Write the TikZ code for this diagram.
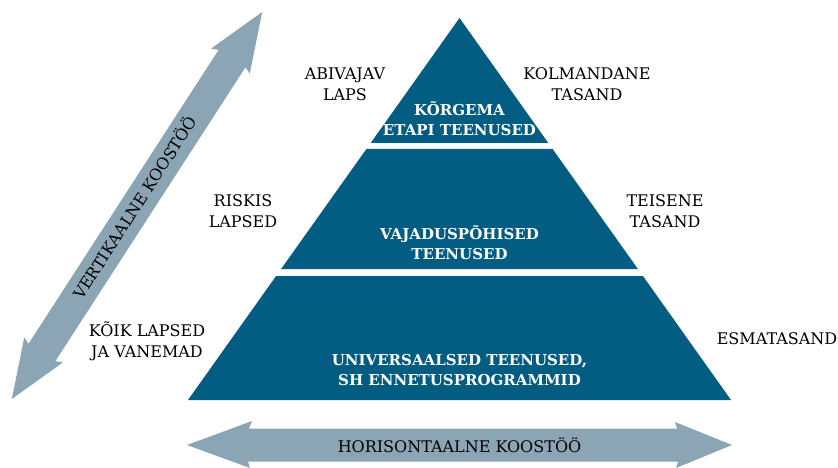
\documentclass[tikz,border=0pt]{standalone}
\usepackage{fontspec}
\setmainfont{DejaVu Serif}
\definecolor{pyr}{HTML}{035C82}
\definecolor{arr}{HTML}{8CA5B4}
\tikzset{
  lbl/.style={align=center, text=black, font=\fontsize{16}{21}\selectfont, inner sep=0pt},
  wlbl/.style={align=center, text=white, font=\fontsize{15}{20}\selectfont\bfseries, inner sep=0pt},
  alb/.style={text=black, font=\fontsize{16}{18}\selectfont, inner sep=0pt},
  band/.style={fill=pyr, draw=none},
  bigarrow/.style={fill=arr, draw=none}
}
\begin{document}
\begin{tikzpicture}[x=1pt,y=-1pt]
\useasboundingbox (0,0) rectangle (838,468);
% pyramid
\fill[band] (459.5,18) -- (548.3,143) -- (370.7,143) -- cycle;
\fill[band] (366.4,149) -- (552.6,149) -- (637.9,269) -- (281.1,269) -- cycle;
\fill[band] (276.1,276) -- (642.9,276) -- (731,400) -- (188,400) -- cycle;
% horizontal arrow
\fill[bigarrow] (187,445) -- (252,421) -- (249,428.5) -- (677,428.5) -- (675,422) -- (732,445)
  -- (676,468) -- (678,461.5) -- (248,461.5) -- (250,468) -- cycle;
% vertical arrow
\begin{scope}[shift={(137,205.5)}, rotate=57.1]
\fill[bigarrow] (-230.5,0) -- (-172,-23) -- (-175,-16) -- (175,-16) -- (172,-23) -- (230.5,0)
  -- (172,23) -- (175,16) -- (-175,16) -- (-172,23) -- cycle;
\end{scope}
\node[alb, rotate=57.1] (vk) at (134,207) {VERTIKAALNE KOOSTÖÖ};
\node[alb] (hk) at (459.5,445.5) {HORISONTAALNE KOOSTÖÖ};
% labels
\node[lbl] (abi) at (345,84) {ABIVAJAV\\LAPS};
\node[lbl] (kol) at (587,84) {KOLMANDANE\\TASAND};
\node[wlbl] (kor) at (459.5,119) {KÕRGEMA\\ETAPI TEENUSED};
\node[lbl] (ris) at (243,211) {RISKIS\\LAPSED};
\node[lbl] (tei) at (665,211) {TEISENE\\TASAND};
\node[wlbl] (vaj) at (459.5,243) {VAJADUSPÕHISED\\TEENUSED};
\node[lbl] (koi) at (147,341) {KÕIK LAPSED\\JA VANEMAD};
\node[lbl] (esm) at (777,338.5) {ESMATASAND};
\node[wlbl] (uni) at (459.5,370) {UNIVERSAALSED TEENUSED,\\SH ENNETUSPROGRAMMID};
\end{tikzpicture}
\end{document}
